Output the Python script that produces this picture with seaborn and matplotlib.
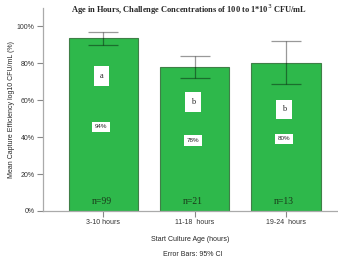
import pandas as pd
import numpy as np
import matplotlib
matplotlib.use('Agg')
import matplotlib.pyplot as plt
import seaborn as sns

# Data
categories = ['3-10 hours', '11-18  hours', '19-24  hours']
mean_eff   = [93.5, 78.0, 80.0]
ci_low     = [90.0, 72.0, 68.5]
ci_high    = [97.0, 84.0, 92.0]
pct_labels = ['94%', '78%', '80%']
letters    = ['a', 'b', 'b']
n_labels   = ['n=99', 'n=21', 'n=13']

df = pd.DataFrame({'age': categories, 'eff': mean_eff})

sns.set_style('white')
plt.rcParams['font.family'] = ['Liberation Sans', 'DejaVu Sans']

fig = plt.figure(figsize=(3.38, 2.63), dpi=100)
ax = fig.add_axes([0.127, 0.198, 0.873, 0.772])

sns.barplot(data=df, x='age', y='eff', ax=ax, color='#2eb84b',
            saturation=1, width=0.76, errorbar=None,
            edgecolor='#3f7f47', linewidth=0.8)

x = np.arange(len(categories))
yerr = [np.array(mean_eff) - np.array(ci_low), np.array(ci_high) - np.array(mean_eff)]
ax.errorbar(x, mean_eff, yerr=yerr, fmt='none', ecolor='black', alpha=0.4,
            elinewidth=0.9, capsize=11, capthick=0.9)

box = dict(boxstyle='square,pad=0.7', facecolor='white', edgecolor='none')
for i in range(len(categories)):
    ax.text(i - 0.02, [73, 59, 55][i], letters[i], ha='center', va='center',
            fontsize=6, family='Liberation Serif', bbox=box)
    ax.text(i - 0.02, [45.5, 38, 39][i], pct_labels[i], ha='center', va='center',
            fontsize=4.5, bbox=dict(boxstyle='square,pad=0.45', facecolor='white', edgecolor='none'))
    ax.text(i - 0.02, 5, n_labels[i], ha='center', va='center',
            fontsize=7, family='Liberation Serif', color='#1a3a1a')

ax.set_xlim(-0.66, 2.57)
ax.set_ylim(0, 110)
ax.set_yticks([0, 20, 40, 60, 80, 100])
ax.set_yticklabels(['0%', '20%', '40%', '60%', '80%', '100%'])
ax.tick_params(axis='both', labelsize=5, length=4, width=0.8, color='#888888',
               labelcolor='#333333', direction='out', left=True, bottom=True, pad=2)
for s in ['top', 'right']:
    ax.spines[s].set_visible(False)
for s in ['left', 'bottom']:
    ax.spines[s].set_color('#aaaaaa')
    ax.spines[s].set_linewidth(0.9)

ax.set_xlabel('Start Culture Age (hours)', fontsize=5, labelpad=7)
ax.set_ylabel('Mean Capture Efficiency log10 CFU/mL (%)', fontsize=5)
ax.yaxis.set_label_coords(-0.095, 0.5)
fig.text(0.483, 0.033, 'Error Bars: 95% CI', ha='left', va='center', fontsize=5)
fig.text(0.56, 0.992, 'Age in Hours, Challenge Concentrations of 100 to 1*10$^3$ CFU/mL',
         ha='center', va='top', fontsize=6, family='Liberation Serif', weight='bold')

plt.savefig('out.png', dpi=100)
